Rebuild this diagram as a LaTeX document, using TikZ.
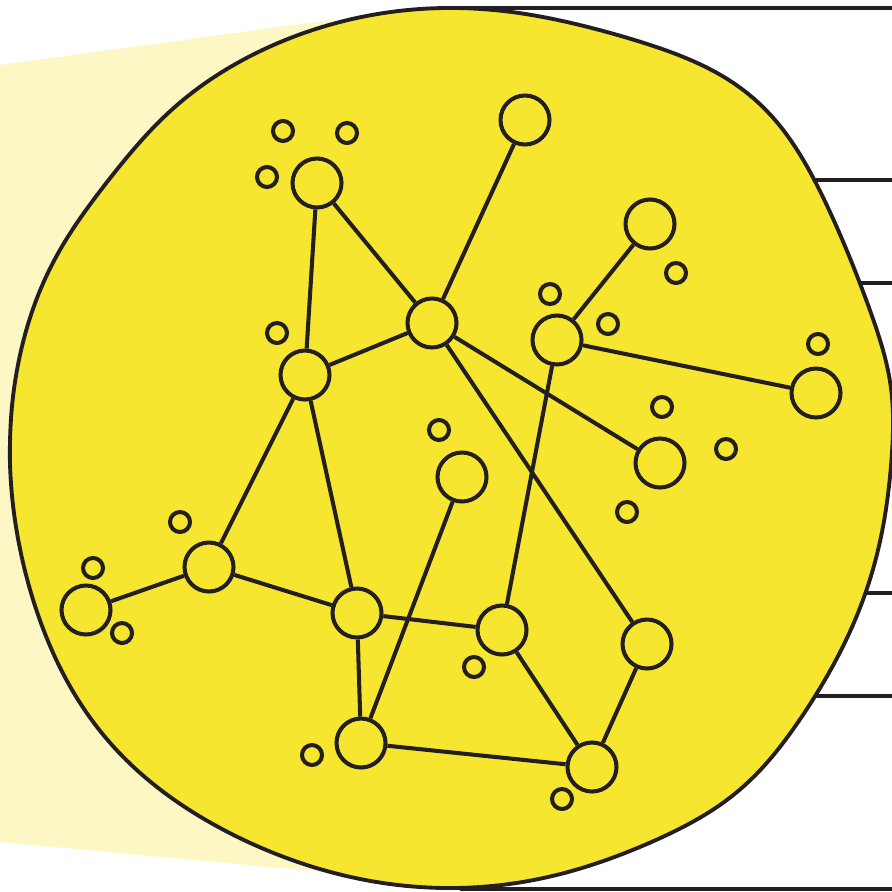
\documentclass[tikz,border=0pt]{standalone}
\usepackage{tikz}
\usetikzlibrary{calc}
\definecolor{ink}{RGB}{35,31,32}
\definecolor{lemon}{RGB}{247,230,48}
\definecolor{glow}{RGB}{252,247,196}
\tikzset{
  hub/.style={circle,draw=ink,fill=lemon,line width=1.15pt,minimum size=4.9mm,inner sep=0pt},
  bubble/.style={circle,draw=ink,fill=lemon,line width=1.15pt,minimum size=2mm,inner sep=0pt},
  link/.style={draw=ink,line width=1.15pt}
}

\begin{document}
\begin{tikzpicture}[x=0.1mm,y=-0.1mm]
\useasboundingbox (0,0) rectangle (892,891);
% light beam
\fill[glow] (0,65) -- (330,20) -- (450,400) -- (400,879) -- (0,842) -- cycle;
% side lines
\foreach \y/\x in {8/450,180/760,283/820,593/820,696/760,889/460}
  \draw[link,line width=1pt] (\x,\y) -- (892,\y);
% the blob
\coordinate (ctr) at (450,448);
\draw[draw=ink,fill=lemon,line width=1.1pt,shift={(ctr)}]
  plot[domain=-180:180,samples=361,variable=\t]
  (\t:{440+23*exp(max(-9,-((\t+49)/16)^2))
        +5*exp(max(-9,-((\t+8)/9)^2))
        +8*exp(max(-9,-((\t-50)/12)^2))
        +10*exp(max(-9,-((\t-140)/20)^2))
        -6*exp(max(-9,-((\t+142)/12)^2))}) -- cycle;
% big nodes
\node[hub] (A) at (317,183) {};
\node[hub] (B) at (525,120) {};
\node[hub] (C) at (432,323) {};
\node[hub] (D) at (650,224) {};
\node[hub] (E) at (557,340) {};
\node[hub] (F) at (305,375) {};
\node[hub] (G) at (816,393) {};
\node[hub] (H) at (660,463) {};
\node[hub] (I) at (462,477) {};
\node[hub] (J) at (209,567) {};
\node[hub] (K) at (86,610) {};
\node[hub] (L) at (357,613) {};
\node[hub] (M) at (502,630) {};
\node[hub] (N) at (647,644) {};
\node[hub] (O) at (361,743) {};
\node[hub] (P) at (592,767) {};
% small ones
\foreach \p [count=\i] in {(283,131),(347,133),(267,177),(277,333),(550,294),
  (608,324),(676,273),(818,344),(662,407),(726,449),(627,512),(439,430),
  (180,522),(93,568),(122,633),(474,667),(312,755),(562,799)}
  \node[bubble] (s\i) at \p {};
% links
\draw[link] (A) -- (F);
\draw[link] (A) -- (C);
\draw[link] (B) -- (C);
\draw[link] (C) -- (F);
\draw[link] (C) -- (H);
\draw[link] (C) -- (N);
\draw[link] (E) -- (D);
\draw[link] (E) -- (G);
\draw[link] (E) -- (M);
\draw[link] (F) -- (J);
\draw[link] (F) -- (L);
\draw[link] (J) -- (K);
\draw[link] (J) -- (L);
\draw[link] (L) -- (M);
\draw[link] (L) -- (O);
\draw[link] (I) -- (O);
\draw[link] (O) -- (P);
\draw[link] (M) -- (P);
\draw[link] (N) -- (P);
\end{tikzpicture}
\end{document}
